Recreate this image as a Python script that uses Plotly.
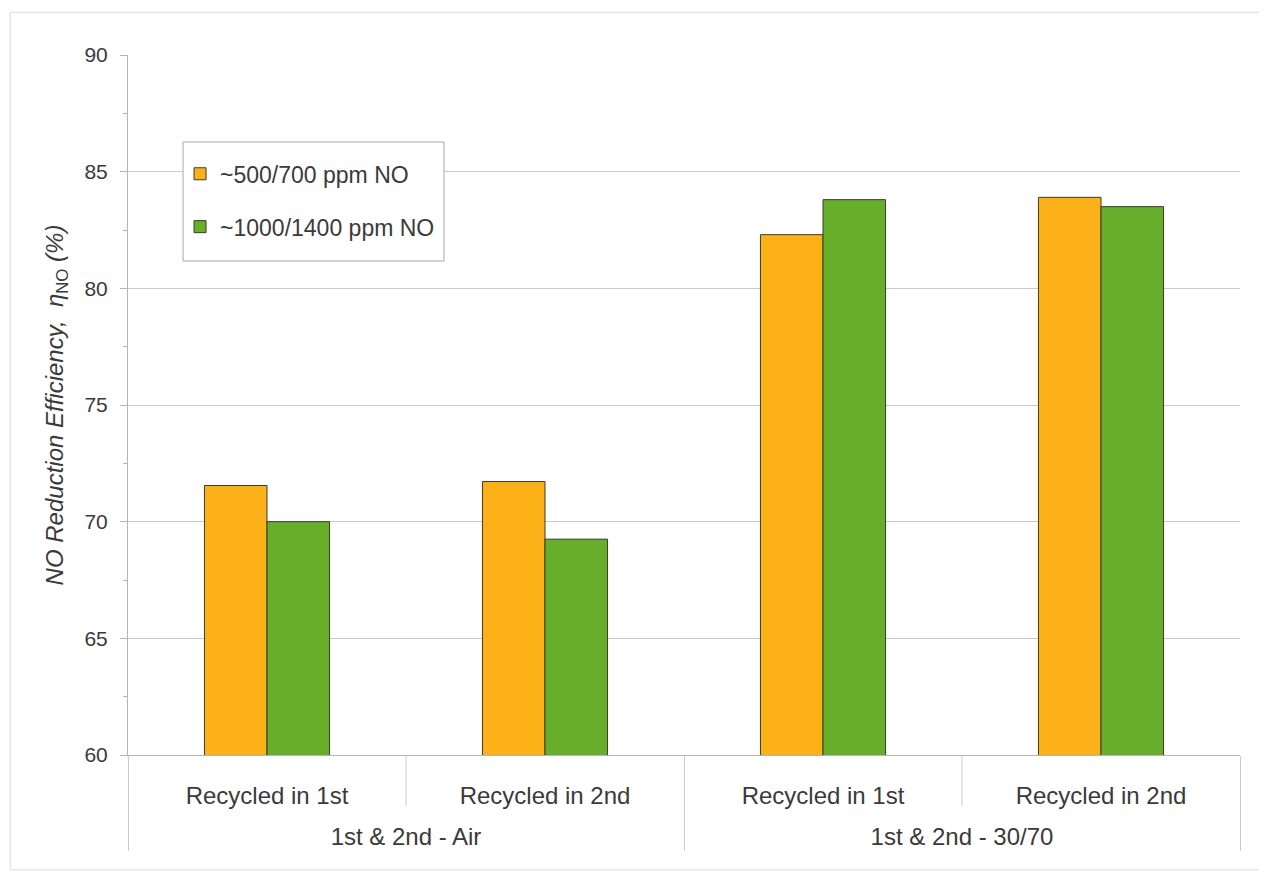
import plotly.graph_objects as go

groups = ["1st & 2nd - Air", "1st & 2nd - Air", "1st & 2nd - 30/70", "1st & 2nd - 30/70"]
categories = ["Recycled in 1st", "Recycled in 2nd", "Recycled in 1st", "Recycled in 2nd"]
series_names = ["~500/700 ppm NO", "~1000/1400 ppm NO"]
low_no = [71.55, 71.72, 82.3, 83.9]
high_no = [70.0, 69.25, 83.8, 83.5]
y_ticks = [60, 65, 70, 75, 80, 85, 90]

colors = ["#FBB117", "#67AE2B"]
font_family = "Arial, Liberation Sans, sans-serif"
txt = "#3a3a3a"

# first-row labels get a blank second line so the group row sits lower
cat_labels = [c + "<br> " for c in categories]

fig = go.Figure()
for name, vals, col in zip(series_names, [low_no, high_no], colors):
    fig.add_trace(go.Bar(
        x=[groups, cat_labels], y=vals, name=name,
        marker=dict(color=col, line=dict(color="#3a3a2a", width=1)),
        legendgroup=name,
    ))

# inner dividers between sub-categories inside a group (first label row only)
for i in range(len(categories) - 1):
    if groups[i] == groups[i + 1]:
        fig.add_shape(type="line", xref="x", yref="paper",
                      x0=i + 0.5, x1=i + 0.5, y0=0, y1=-0.073,
                      line=dict(color="#C8CCCC", width=1))

# faint outer border of the chart
fig.add_shape(type="rect", xref="paper", yref="paper",
              x0=-0.106, x1=1.04, y0=-0.164, y1=1.061,
              line=dict(color="#D8DBDB", width=1))

# legend frame (white, hides the grid behind it)
fig.add_shape(type="rect", xref="paper", yref="paper", layer="above",
              x0=0.0495, x1=0.2842, y0=0.7057, y1=0.8757,
              line=dict(color="#A8A8A8", width=1), fillcolor="white")

fig.update_layout(
    width=1267, height=873,
    margin=dict(l=120, r=35, t=47, b=126),
    paper_bgcolor="white", plot_bgcolor="white",
    barmode="group", bargap=0.55, bargroupgap=0,
    font=dict(family=font_family, color=txt),
    showlegend=True,
    legend=dict(
        x=0.0468, y=0.861, xanchor="left", yanchor="top",
        borderwidth=0, bgcolor="rgba(0,0,0,0)",
        font=dict(size=23, family=font_family, color=txt),
        tracegroupgap=20, traceorder="grouped",
    ),
)

fig.update_xaxes(
    type="multicategory",
    showdividers=True, dividercolor="#C8CCCC", dividerwidth=1,
    showline=True, linecolor="#B0B5B5", linewidth=1,
    tickfont=dict(size=24, family=font_family, color=txt),
    ticklabelstandoff=19,
    showgrid=False,
)
fig.update_yaxes(
    range=[60, 90], tickvals=y_ticks,
    showgrid=True, gridcolor="#C8CCCC", gridwidth=1,
    showline=True, linecolor="#B0B5B5", linewidth=1,
    ticks="outside", ticklen=7, tickcolor="#B0B5B5",
    minor=dict(dtick=2.5, ticks="outside", ticklen=4, tickcolor="#B0B5B5", showgrid=False),
    tickfont=dict(size=21, family=font_family, color=txt),
    ticklabelstandoff=8,
    title=dict(text="<i>NO Reduction Efficiency,  η</i><sub>NO</sub><i> (%)</i>",
               font=dict(size=24, family=font_family, color=txt), standoff=14),
    zeroline=False,
)

fig.write_html("out.html")
